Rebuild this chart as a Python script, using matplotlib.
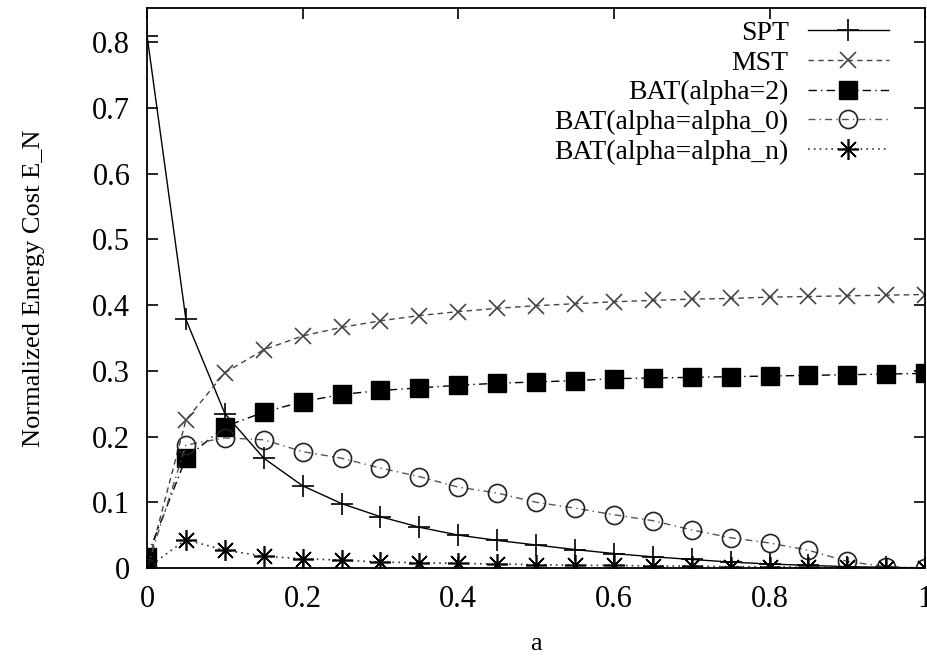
import numpy as np
import matplotlib
matplotlib.use("Agg")
import matplotlib.pyplot as plt

# valeurs
a = [0.0, 0.05, 0.1, 0.15, 0.2, 0.25, 0.3, 0.35, 0.4, 0.45, 0.5,
     0.55, 0.6, 0.65, 0.7, 0.75, 0.8, 0.85, 0.9, 0.95, 1.0]
spt = [0.81, 0.378, 0.235, 0.167, 0.125, 0.098, 0.078, 0.062, 0.050, 0.042, 0.035,
       0.028, 0.022, 0.017, 0.013, 0.009, 0.006, 0.004, 0.002, 0.001, 0.0]
mst = [0.0, 0.225, 0.297, 0.332, 0.353, 0.366, 0.376, 0.384, 0.390, 0.395, 0.399,
       0.402, 0.405, 0.407, 0.409, 0.410, 0.412, 0.413, 0.414, 0.415, 0.416]
bat2 = [0.017, 0.167, 0.215, 0.237, 0.253, 0.264, 0.270, 0.274, 0.278, 0.281, 0.283,
        0.285, 0.288, 0.289, 0.290, 0.291, 0.292, 0.293, 0.294, 0.295, 0.296]
bat_a0 = [0.0, 0.187, 0.198, 0.195, 0.177, 0.167, 0.152, 0.139, 0.123, 0.114, 0.100,
          0.091, 0.081, 0.072, 0.058, 0.046, 0.038, 0.027, 0.010, 0.002, 0.0]
bat_an = [0.0, 0.043, 0.027, 0.018, 0.014, 0.012, 0.009, 0.008, 0.007, 0.006, 0.005,
          0.004, 0.004, 0.003, 0.003, 0.002, 0.002, 0.001, 0.001, 0.0, 0.0]

plt.rcParams['font.family'] = ['Liberation Serif', 'DejaVu Serif']

fig = plt.figure(figsize=(9.27, 6.58), dpi=100)
ax = fig.add_axes([0.1586, 0.1368, 0.8394, 0.8512])

ax.plot(a, spt, color="black", linestyle="-", linewidth=1.0,
        marker="+", markersize=16, markeredgewidth=1.2, label="SPT")
ax.plot(a, mst, color="#444444", linestyle=(0, (4, 3)), linewidth=1.0,
        marker="x", markersize=12, markeredgewidth=1.2, label="MST")
ax.plot(a, bat2, color="black", linestyle=(0, (6, 3, 1, 3)), linewidth=1.0,
        marker="s", markersize=13, markerfacecolor="black", label="BAT(alpha=2)")
ax.plot(a, bat_a0, color="#555555", linestyle=(0, (5, 3, 1, 3)), linewidth=1.0,
        marker="o", markersize=13, markerfacecolor="none", markeredgecolor="#222222",
        markeredgewidth=1.2, label="BAT(alpha=alpha_0)")
ax.plot(a, bat_an, color="#333333", linestyle=(0, (1, 2.5)), linewidth=1.2,
        marker=(8, 2, 0), markersize=15, markeredgewidth=1.2, markeredgecolor="black",
        label="BAT(alpha=alpha_n)")

ax.set_xlim(0, 1)
ax.set_ylim(0, 0.852)
ax.set_xticks([0, 0.2, 0.4, 0.6, 0.8, 1])
ax.set_xticklabels(["0", "0.2", "0.4", "0.6", "0.8", "1"])
ax.set_yticks([0, 0.1, 0.2, 0.3, 0.4, 0.5, 0.6, 0.7, 0.8])
ax.set_yticklabels(["0", "0.1", "0.2", "0.3", "0.4", "0.5", "0.6", "0.7", "0.8"])
ax.tick_params(direction="in", length=8, width=1.2, top=True, right=True,
               labelsize=22, pad=12)
for s in ax.spines.values():
    s.set_linewidth(1.3)

ax.set_xlabel("a", fontsize=19, labelpad=14)
ax.set_ylabel("Normalized Energy Cost E_N", fontsize=19, labelpad=34)

ax.legend(loc="upper right", frameon=False, markerfirst=False, fontsize=20,
          handlelength=2.9, labelspacing=0.15, borderaxespad=0.3,
          handletextpad=0.7, bbox_to_anchor=(0.978, 1.012))

fig.savefig("out.png", dpi=100)
